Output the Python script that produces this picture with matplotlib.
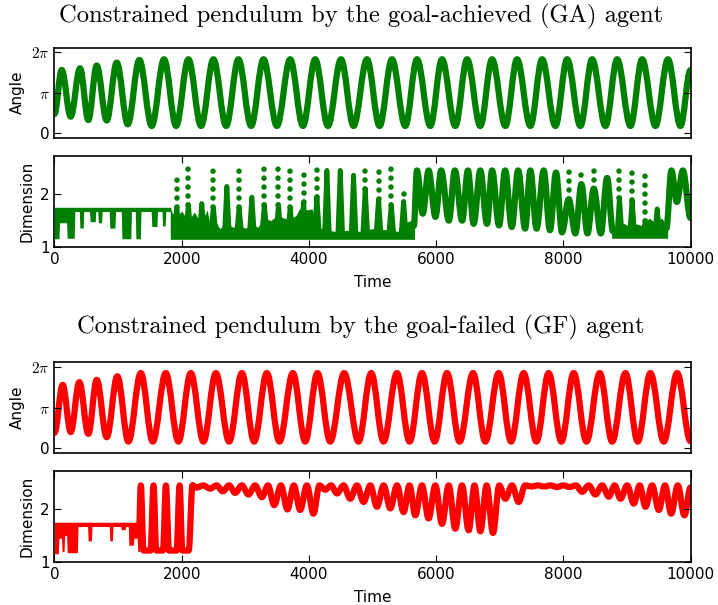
import numpy as np
import matplotlib
matplotlib.use("Agg")
import matplotlib.pyplot as plt
from matplotlib.path import Path
from matplotlib.patches import PathPatch

plt.rcParams['mathtext.fontset'] = 'cm'

# ---- angle series: turning points ----
ga_ang_t = [0, 113, 255, 401, 532, 664, 821, 979, 1152, 1334, 1529, 1722, 1912, 2105,
            2305, 2499, 2699, 2892, 3092, 3286, 3497, 3706, 3906, 4099, 4299, 4505, 4702,
            4913, 5111, 5306, 5515, 5700, 5909, 6093, 6302, 6487, 6695, 6880, 7089, 7273,
            7482, 7667, 7876, 8060, 8269, 8454, 8662, 8847, 9056, 9240, 9449, 9645, 9842, 10000]
ga_ang_v = [1.5, 4.91, 1.29, 5.04, 1.03, 5.25, 1.00, 5.48, 0.70, 5.69, 0.57, 5.74, 0.57, 5.74,
            0.57, 5.74, 0.57, 5.74, 0.57, 5.74, 0.57, 5.74, 0.57, 5.74, 0.57, 5.74, 0.57,
            5.74, 0.57, 5.74, 0.57, 5.74, 0.57, 5.74, 0.57, 5.74, 0.57, 5.74, 0.57, 5.74,
            0.57, 5.74, 0.57, 5.74, 0.57, 5.74, 0.57, 5.74, 0.57, 5.74, 0.57, 5.74, 0.57, 4.9]

gf_ang_t = [0, 129, 255, 390, 532, 664, 821, 988, 1162, 1357, 1545, 1750, 1948, 2143, 2342,
            2537, 2746, 2946, 3139, 3339, 3537, 3748, 3942, 4135, 4335, 4555, 4781, 4980,
            5174, 5385, 5583, 5778, 5977, 6172, 6370, 6581, 6774, 6984, 7179, 7377, 7577,
            7770, 7970, 8164, 8364, 8573, 8768, 8977, 9171, 9370, 9580, 9790, 10000]
gf_ang_v = [1.2, 4.90, 1.25, 5.11, 1.12, 5.29, 0.86, 5.56, 0.52, 5.81, 0.52, 5.81, 0.52, 5.81,
            0.52, 5.81, 0.52, 5.81, 0.52, 5.81, 0.52, 5.81, 0.52, 5.81, 0.52, 5.81, 0.52,
            5.81, 0.52, 5.81, 0.52, 5.81, 0.52, 5.81, 0.52, 5.81, 0.52, 5.81, 0.52, 5.81,
            0.52, 5.81, 0.52, 5.81, 0.52, 5.81, 0.52, 5.81, 0.52, 5.81, 0.52, 5.81, 0.55]

# ---- GA dimension ----
ga_plat_t = [0, 70, 80, 190, 200, 310, 320, 390, 400, 450, 460, 550, 560, 640, 650, 680, 690,
             740, 750, 860, 870, 950, 960, 1050, 1060, 1200, 1210, 1270, 1280, 1350, 1360,
             1520, 1530, 1610, 1620, 1690, 1700, 1740, 1750, 1830]
ga_plat_lo = [1.16, 1.16, 1.46, 1.46, 1.17, 1.17, 1.67, 1.67, 1.36, 1.36, 1.67, 1.67, 1.48,
              1.48, 1.67, 1.67, 1.46, 1.46, 1.67, 1.67, 1.36, 1.36, 1.67, 1.67, 1.16, 1.16,
              1.67, 1.67, 1.16, 1.16, 1.67, 1.67, 1.39, 1.39, 1.67, 1.67, 1.40, 1.40, 1.67, 1.67]

ga_band_t = [1820, 1900, 2000, 2100, 2200, 2300, 2400, 2450, 2500, 2600, 2700, 2800, 2900,
             3000, 3100, 3200, 3300, 3400, 3500, 3600, 3700, 3800, 3850, 3950, 4050, 4120,
             4200, 4400, 4600, 4800, 5000, 5200, 5400, 5500, 5600, 5660]
ga_band_hi = [1.72, 1.55, 1.68, 1.5, 1.66, 1.45, 1.7, 1.4, 1.55, 1.35, 1.45, 1.38, 1.4, 1.36,
              1.42, 1.38, 1.55, 1.5, 1.6, 1.55, 1.52, 1.6, 1.72, 1.7, 1.72, 1.4, 1.35, 1.3,
              1.32, 1.3, 1.35, 1.33, 1.3, 1.45, 1.5, 1.55]
ga_band2_t = [8760, 8850, 8950, 9050, 9150, 9250, 9350, 9450, 9550, 9640]
ga_band2_hi = [1.3, 1.35, 1.45, 1.38, 1.44, 1.4, 1.55, 1.45, 1.55, 1.35]

ga_peak_t = [1923, 2105, 2316, 2498, 2710, 2903, 3103, 3300, 3522, 3706, 3916, 4126, 4283,
             4493, 4702, 4886, 5095, 5295, 5489, 8883, 9082, 9292, 9476]
ga_peak_v = [1.75, 1.8, 1.82, 1.75, 2.14, 1.75, 1.94, 1.8, 1.8, 1.75, 1.85, 1.95, 2.44,
             2.44, 2.35, 2.1, 1.9, 1.8, 1.86, 1.93, 1.88, 1.5, 1.72]

ga_dot_t = [1923, 2105, 2498, 2903, 3300, 3522, 3706, 3916, 4126, 4886, 5095, 5295, 5489,
            8085, 8285, 8479, 8883, 9082, 9292]
ga_dot_lo = [1.75, 1.8, 1.75, 1.75, 1.8, 1.8, 1.75, 1.85, 1.95, 2.1, 1.9, 1.8, 2.0,
             1.9, 2.18, 2.1, 1.93, 1.88, 1.5]
ga_dot_hi = [2.41, 2.46, 2.46, 2.46, 2.46, 2.46, 2.46, 2.46, 2.46, 2.46, 2.46, 2.46, 2.06,
             2.46, 2.46, 2.46, 2.46, 2.46, 2.46]

ga_osc_t = [5650, 5699, 5790, 5882, 5990, 6080, 6200, 6295, 6410, 6500, 6590, 6695, 6800,
            6880, 6990, 7085, 7190, 7290, 7400, 7482, 7580, 7692, 7790, 7885, 7980, 8085,
            8190, 8285, 8380, 8479, 8590, 8689, 8780]
ga_osc_v = [1.4, 2.44, 1.63, 2.44, 1.57, 2.44, 1.5, 2.44, 1.5, 2.44, 1.44, 2.44, 1.44, 2.44,
            1.41, 2.44, 1.38, 2.44, 1.35, 2.44, 1.35, 2.44, 1.32, 2.4, 1.28, 1.9, 1.26, 2.18,
            1.26, 2.1, 1.26, 2.3, 1.3]
ga_osc2_t = [9620, 9700, 9785, 9880, 10000]
ga_osc2_v = [1.35, 2.44, 1.85, 2.44, 1.55]

# ---- GF dimension ----
gf_plat_t = [0, 60, 70, 110, 120, 150, 160, 190, 200, 360, 370, 520, 530, 580, 590, 860,
             870, 910, 920, 1040, 1050, 1110, 1120, 1160, 1170, 1240, 1250, 1300, 1310, 1340]
gf_plat_lo = [1.16, 1.16, 1.45, 1.45, 1.2, 1.2, 1.5, 1.5, 1.18, 1.18, 1.67, 1.67, 1.4, 1.4,
              1.67, 1.67, 1.4, 1.4, 1.67, 1.67, 1.61, 1.61, 1.67, 1.67, 1.32, 1.32, 1.45,
              1.45, 1.2, 1.2]
gf_osc_t = [1330, 1357, 1400, 1510, 1557, 1600, 1705, 1752, 1800, 1920, 1967, 2010, 2110, 2170]
gf_osc_v = [1.65, 2.44, 1.22, 1.22, 2.44, 1.22, 1.22, 2.44, 1.22, 1.22, 2.44, 1.22, 1.22, 2.44]
gf_hi_t = [2170, 2237, 2340, 2447, 2547, 2647, 2745, 2840, 2945, 3050, 3155, 3260, 3357,
           3454, 3560, 3663, 3763, 3863, 3968, 4072, 4165, 4257, 4349, 4441, 4545, 4650,
           4755, 4860, 4965, 5070, 5175, 5280, 5385, 5489, 5581, 5673, 5778, 5882, 5988,
           6093, 6198, 6302, 6407, 6512, 6604, 6695, 6795, 6895, 6992, 7089, 7194, 7298,
           7400, 7500, 7600, 7700, 7800, 7900, 8000, 8100, 8198, 8296, 8400, 8505, 8610,
           8715, 8807, 8899, 9004, 9108, 9200, 9292, 9397, 9502, 9599, 9696, 9800, 9905, 10000]
gf_hi_v = [2.44, 2.40, 2.44, 2.38, 2.44, 2.33, 2.44, 2.30, 2.44, 2.27, 2.44, 2.22, 2.44,
           2.07, 2.44, 1.99, 2.44, 1.98, 2.44, 1.91, 2.44, 2.36, 2.44, 2.29, 2.44, 2.19,
           2.44, 2.13, 2.44, 2.04, 2.44, 2.01, 2.44, 1.94, 2.44, 1.88, 2.44, 1.82, 2.44,
           1.72, 2.44, 1.63, 2.44, 1.60, 2.44, 1.58, 2.44, 1.55, 2.44, 2.19, 2.44, 2.13,
           2.44, 2.42, 2.44, 2.42, 2.44, 2.41, 2.44, 2.41, 2.44, 2.32, 2.44, 2.27, 2.44,
           2.23, 2.44, 2.19, 2.44, 2.10, 2.44, 2.04, 2.44, 1.98, 2.44, 1.91, 2.44, 1.88, 2.40]

GREEN = '#008000'
RED = '#ff0000'
LW = 4.5


def smooth(ax, t, v, color):
    # cubic curve through turning points, flat tangent at each point
    verts = [(t[0], v[0])]
    codes = [Path.MOVETO]
    for i in range(1, len(t)):
        d = (t[i] - t[i-1]) * 0.364
        verts += [(t[i-1] + d, v[i-1]), (t[i] - d, v[i]), (t[i], v[i])]
        codes += [Path.CURVE4] * 3
    p = PathPatch(Path(verts, codes), fill=False, edgecolor=color, lw=LW,
                  capstyle='round', joinstyle='round')
    ax.add_patch(p)


def spikes(ax, t, v, color, base=1.3, w=35):
    for ti, vi in zip(t, v):
        ax.plot([ti - w, ti, ti + w], [base, vi, base], color=color, lw=3.5,
                solid_joinstyle='round')


def dots(ax, t, lo, hi, color):
    lc = ax.vlines(t, lo, hi, colors=color, lw=4, linestyles=(0, (0.01, 1.6)))
    lc.set_capstyle('round')


def style_angle(ax):
    ax.set_xlim(0, 10000)
    ax.set_ylim(-0.34, 6.64)
    ax.set_xticks([])
    ax.set_yticks([0, np.pi, 2 * np.pi])
    ax.set_yticklabels(['0', r'$\pi$', r'$2\pi$'])
    ax.tick_params(direction='in', left=True, right=True, length=5, labelsize=11)
    ax.set_ylabel('Angle', fontsize=11)
    ax.yaxis.set_label_coords(-0.047, 0.5)


def style_dim(ax):
    ax.set_xlim(0, 10000)
    ax.set_ylim(1, 2.71)
    ax.set_yticks([1, 2])
    ax.set_xticks(range(0, 10001, 2000))
    ax.tick_params(direction='in', left=True, right=True, top=True, bottom=True,
                   length=5, labelsize=11)
    ax.set_ylabel('Dimension', fontsize=11)
    ax.yaxis.set_label_coords(-0.032, 0.5)
    ax.set_xlabel('Time', fontsize=11)
    ax.xaxis.set_label_coords(0.5, -0.30)


fig = plt.figure(figsize=(7.18, 6.05), dpi=100)
L, W = 0.0759, 0.8858
ax1 = fig.add_axes([L, 0.7724, W, 0.1488])
ax2 = fig.add_axes([L, 0.5912, W, 0.1509])
ax3 = fig.add_axes([L, 0.2517, W, 0.1494])
ax4 = fig.add_axes([L, 0.0706, W, 0.1509])

for ax in (ax1, ax2, ax3, ax4):
    for s in ax.spines.values():
        s.set_linewidth(1.2)

# GA
smooth(ax1, ga_ang_t, ga_ang_v, GREEN)
style_angle(ax1)

ax2.fill_between(ga_plat_t, ga_plat_lo, 1.75, color=GREEN, lw=0)
ax2.fill_between(ga_band_t, 1.15, ga_band_hi, color=GREEN, lw=0)
ax2.fill_between(ga_band2_t, 1.17, ga_band2_hi, color=GREEN, lw=0)
spikes(ax2, ga_peak_t, ga_peak_v, GREEN)
dots(ax2, ga_dot_t, ga_dot_lo, ga_dot_hi, GREEN)
smooth(ax2, ga_osc_t, ga_osc_v, GREEN)
smooth(ax2, ga_osc2_t, ga_osc2_v, GREEN)
style_dim(ax2)

# GF
smooth(ax3, gf_ang_t, gf_ang_v, RED)
style_angle(ax3)

ax4.fill_between(gf_plat_t, gf_plat_lo, 1.75, color=RED, lw=0)
smooth(ax4, gf_osc_t, gf_osc_v, RED)
smooth(ax4, gf_hi_t, gf_hi_v, RED)
style_dim(ax4)

fig.text(0.503, 0.972, 'Constrained pendulum by the goal-achieved (GA) agent',
         ha='center', va='center', fontsize=17.7, family='cmr10')
fig.text(0.503, 0.459, 'Constrained pendulum by the goal-failed (GF) agent',
         ha='center', va='center', fontsize=17.7, family='cmr10')

fig.savefig('out.png', dpi=100)
